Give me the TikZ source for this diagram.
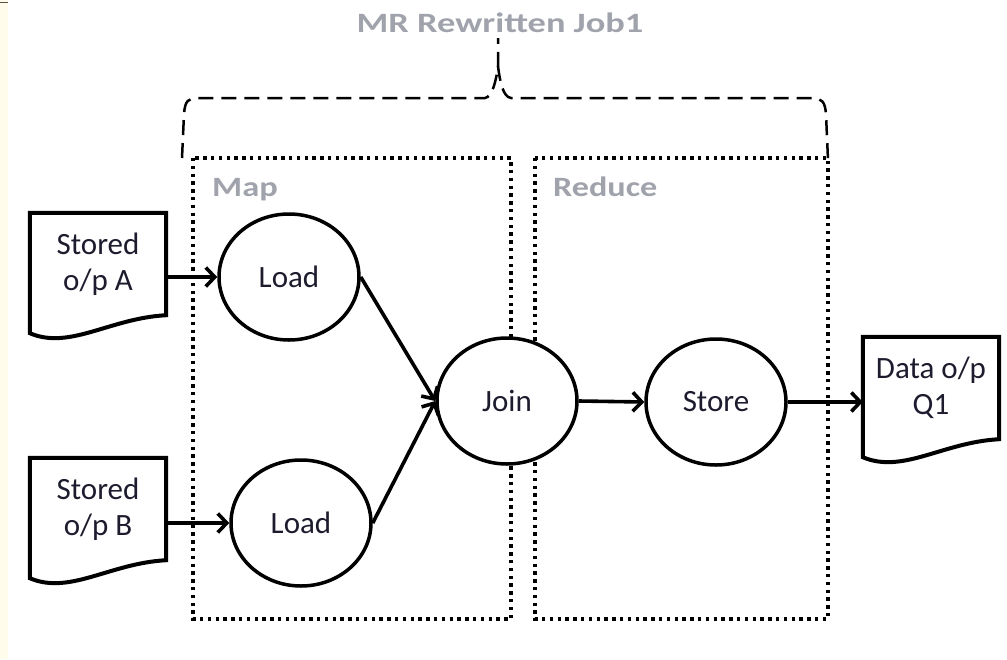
\documentclass[tikz,border=0pt]{standalone}
\usepackage{fontspec}
\setmainfont{Carlito}
\usetikzlibrary{shapes.geometric,arrows.meta,calc}

\definecolor{inkdark}{RGB}{28,28,46}
\definecolor{labelgray}{RGB}{160,163,172}
\definecolor{cream}{RGB}{255,252,236}
\definecolor{stripline}{RGB}{90,82,72}

\tikzset{
  process/.style={ellipse, draw, fill=white, line width=3.5pt, minimum width=140pt, minimum height=126pt,
    inner sep=0pt, text=inkdark, font=\fontsize{31}{36}\selectfont},
  document/.style={rectangle, minimum width=136pt, minimum height=102pt, inner sep=0pt,
    align=center, text=inkdark, font=\fontsize{31}{36}\selectfont},
  docline/.style={line width=4pt, line join=miter},
  flow/.style={line width=3.6pt, -{Straight Barb[length=9pt,width=19pt]}},
  phase/.style={line width=3.4pt, dash pattern=on 3.4pt off 4.4pt},
  phaselabel/.style={text=labelgray, font=\fontsize{28}{34}\selectfont\bfseries, inner sep=0pt},
  bracket/.style={line width=2.5pt, dash pattern=on 15pt off 8pt, line cap=butt},
}

% outline of a document symbol: straight top and sides, wavy bottom edge
\newcommand\docoutline[1]{%
  \draw[docline] ($(#1.south west)+(0,18)$) -- (#1.north west) -- (#1.north east) -- (#1.south east)
    .. controls ($(#1.south west)+(80,3)$) and ($(#1.south west)+(40,35)$) .. ($(#1.south west)+(0,18)$) -- cycle;}

\begin{document}
\begin{tikzpicture}[x=1pt,y=-1pt]
  \useasboundingbox (0,0) rectangle (1007,659);

  % margin strip on the left
  \fill[cream] (0,0) rectangle (8,659);
  \draw[stripline, line width=1.6pt] (0,2.5) -- (8,2.5);

  % job title and its bracket
  \node[phaselabel, anchor=base] (title) at (500,32) {\scalebox{1.3}[1]{MR Rewritten Job1}};
  \draw[bracket] (182,158) -- (184,114) .. controls (185,101) and (188,98) .. (198,98)
    -- (485,98) .. controls (492,97) and (496,82) .. (498,66) -- (498,38);
  \draw[bracket] (498,66) .. controls (500,82) and (503,97) .. (511,98)
    -- (812,98) .. controls (822,98) and (825,102) .. (826,114) -- (828,160);

  % map and reduce phases
  \draw[phase] (193,158) rectangle (511,619);
  \draw[phase] (535,158) rectangle (828,619);
  \node[phaselabel, anchor=base west] (maplbl) at (212,196) {\scalebox{1.23}[1]{Map}};
  \node[phaselabel, anchor=base west] (redlbl) at (553,196) {\scalebox{1.22}[1]{Reduce}};

  % inputs and output
  \node[document] (inA) at (98,264) {Stored\\o/p A};
  \node[document] (inB) at (98,509) {Stored\\o/p B};
  \node[document] (outQ) at (931,388) {Data o/p\\Q1};
  \docoutline{inA}
  \docoutline{inB}
  \docoutline{outQ}

  % operators
  \node[process] (load1) at (289,277) {Load};
  \node[process] (load2) at (301,523) {Load};
  \node[process] (join)  at (507,401) {Join};
  \node[process] (store) at (716,402) {Store};

  % data flow
  \draw[flow] (inA.east |- load1.west) -- (load1.west);
  \draw[flow] (inB.east |- load2.west) -- (load2.west);
  \draw[flow] (load1.east) -- (join.west);
  \draw[flow] (load2.east) -- (join.west);
  \draw[flow] (join.east) -- (store.west);
  \draw[flow] (store.east) -- (outQ.west |- store.east);
\end{tikzpicture}
\end{document}
